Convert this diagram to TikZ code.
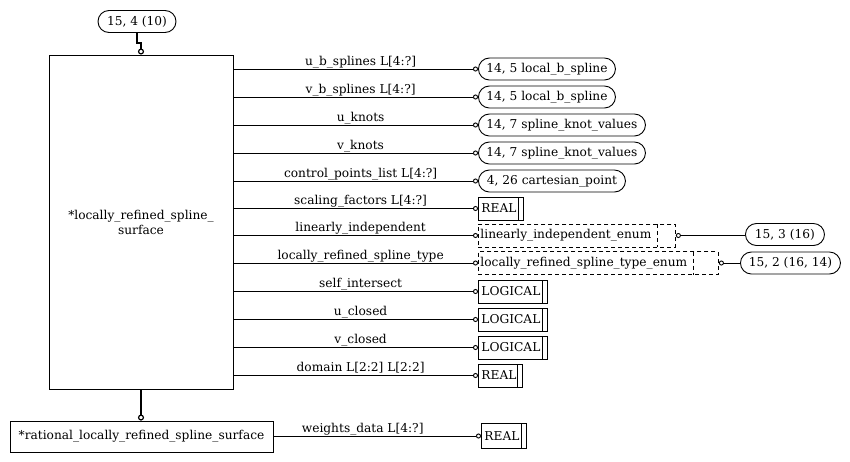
\documentclass[tikz,border=0pt]{standalone}
\usepackage{fontspec}
\setmainfont{DejaVu Serif}
\usetikzlibrary{arrows.meta,positioning,shapes.misc}

\begin{document}
\begin{tikzpicture}[x=1pt, y=-1pt, font=\fontsize{12.2}{15}\selectfont, line width=0.9pt]

\tikzstyle{entity}=[rectangle,draw,align=center,inner sep=0pt]
\tikzstyle{pageref}=[rectangle,draw,rounded corners=11pt,minimum height=22pt,inner sep=0pt,anchor=west]
\tikzstyle{typebox}=[rectangle,draw,anchor=west,minimum height=23pt,inner xsep=3pt,inner ysep=0pt,align=left,
  path picture={\draw ([xshift=-5pt]path picture bounding box.north east) -- ([xshift=-5pt]path picture bounding box.south east);}]
\tikzset{enumbox/.style={rectangle,draw,dash pattern=on 4pt off 3pt,anchor=west,minimum height=23pt,inner xsep=2pt,inner ysep=0pt,align=left,
  path picture={\draw[dash pattern=on 4pt off 3pt] ([xshift=-#1]path picture bounding box.north east) -- ([xshift=-#1]path picture bounding box.south east);}}}
\tikzstyle{attr}=[-{Circle[open,length=5pt,width=5pt]}]
\tikzstyle{lbl}=[pos=0.52,anchor=base,yshift=4pt,inner sep=0pt]
\tikzstyle{subtype}=[line width=1.8pt,-{Circle[open,length=6pt,width=6pt,line width=1.2pt]}]

\useasboundingbox (0,0) rectangle (850,461);

% entities
\node[entity,minimum width=184pt,minimum height=334pt] (lrss) at (141,222) {*locally\_refined\_spline\_\\surface};
\node[pageref,minimum width=78pt,anchor=center] (pgtop) at (137,21.5) {15, 4 (10)};
\node[entity,minimum width=263pt,minimum height=31pt] (rlrss) at (141.5,436.5) {*rational\_locally\_refined\_spline\_surface};

% attribute targets
\node[pageref,minimum width=137pt] (ubspl) at (478,69) {14, 5 local\_b\_spline};
\node[pageref,minimum width=137pt] (vbspl) at (478,97) {14, 5 local\_b\_spline};
\node[pageref,minimum width=167pt] (uknots) at (478,125) {14, 7 spline\_knot\_values};
\node[pageref,minimum width=167pt] (vknots) at (478,153) {14, 7 spline\_knot\_values};
\node[pageref,minimum width=147pt] (ctrlpts) at (478,181) {4, 26 cartesian\_point};
\node[typebox,text width=39pt] (scaling) at (478,208.5) {REAL};
\node[enumbox=18pt,text width=193pt] (linindep) at (478,235.5) {linearly\_independent\_enum};
\node[enumbox=25pt,text width=236pt] (lrstype) at (478,263) {locally\_refined\_spline\_type\_enum};
\node[typebox,text width=63pt] (selfint) at (478,291.5) {LOGICAL};
\node[typebox,text width=63pt] (uclosed) at (478,319.5) {LOGICAL};
\node[typebox,text width=63pt] (vclosed) at (478,347.5) {LOGICAL};
\node[typebox,text width=38pt] (domain) at (478,375.5) {REAL};
\node[typebox,text width=39pt,minimum height=25pt] (weights) at (481,436) {REAL};

% page references of the enums
\node[pageref,minimum width=79pt] (pglin) at (745,234.5) {15, 3 (16)};
\node[pageref,minimum width=100pt] (pglrs) at (740,263) {15, 2 (16, 14)};

% attributes
\draw[attr] (lrss.east |- ubspl.west) -- node[lbl]{u\_b\_splines L[4:?]} (ubspl.west);
\draw[attr] (lrss.east |- vbspl.west) -- node[lbl]{v\_b\_splines L[4:?]} (vbspl.west);
\draw[attr] (lrss.east |- uknots.west) -- node[lbl]{u\_knots} (uknots.west);
\draw[attr] (lrss.east |- vknots.west) -- node[lbl]{v\_knots} (vknots.west);
\draw[attr] (lrss.east |- ctrlpts.west) -- node[lbl]{control\_points\_list L[4:?]} (ctrlpts.west);
\draw[attr] (lrss.east |- scaling.west) -- node[lbl]{scaling\_factors L[4:?]} (scaling.west);
\draw[attr] (lrss.east |- linindep.west) -- node[lbl]{linearly\_independent} (linindep.west);
\draw[attr] (lrss.east |- lrstype.west) -- node[lbl]{locally\_refined\_spline\_type} (lrstype.west);
\draw[attr] (lrss.east |- selfint.west) -- node[lbl]{self\_intersect} (selfint.west);
\draw[attr] (lrss.east |- uclosed.west) -- node[lbl]{u\_closed} (uclosed.west);
\draw[attr] (lrss.east |- vclosed.west) -- node[lbl]{v\_closed} (vclosed.west);
\draw[attr] (lrss.east |- domain.west) -- node[lbl]{domain L[2:2] L[2:2]} (domain.west);
\draw[attr] (rlrss.east |- weights.west) -- node[lbl,pos=0.43]{weights\_data L[4:?]} (weights.west);

\draw[{Circle[open,length=5pt,width=5pt]}-] (linindep.east) -- (linindep.east -| pglin.west);
\draw[{Circle[open,length=5pt,width=5pt]}-] (lrstype.east) -- (lrstype.east -| pglrs.west);

% supertype / subtype
\draw[subtype] (pgtop.south) -- ++(0,10) -| (lrss.north);
\draw[subtype] (lrss.south) -- (lrss.south |- rlrss.north);
\end{tikzpicture}
\end{document}
